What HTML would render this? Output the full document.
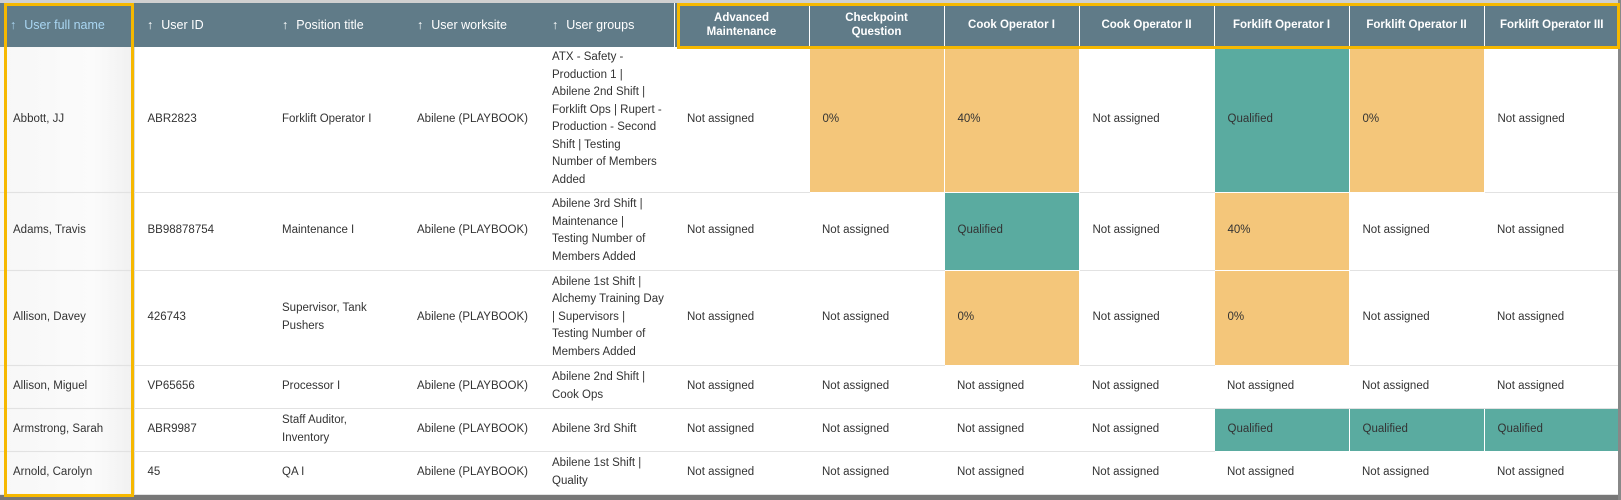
<!DOCTYPE html>
<html><head><meta charset="utf-8"><style>
html,body{margin:0;padding:0;background:#fff;}
body{width:1621px;height:500px;position:relative;overflow:hidden;font-family:"Liberation Sans",sans-serif;}
table{position:absolute;left:0;top:3px;border-collapse:collapse;table-layout:fixed;width:1619px;}
td,th{padding:0 0 0 13px;font-size:11.5px;color:#333;vertical-align:middle;text-align:left;overflow:hidden;line-height:17.5px;font-weight:normal;border:none;border-bottom:1px solid #e2e2e2;white-space:nowrap;}
th{background:#607b88;color:#fff;height:44px;font-size:12.5px;line-height:14px;border-bottom:none;}
th.q{text-align:center;padding:0 4px;border-left:1px solid #fff;font-weight:bold;font-size:11.5px;}
th .ar{margin-right:8px;}
th.n{color:#a9d6f2;padding-left:10px;}
td.n{background:linear-gradient(90deg,#f7f7f7,#fbfbfb 70%,#f0f0f0);box-shadow:inset -3px 0 3px -2px rgba(0,0,0,.12);border-right:1px solid #ddd;}
.o{background:#f4c67a;border-left:1px solid #fff;border-right:1px solid #fff;border-bottom-color:#fff;}
.t{background:#5aaba0;border-left:1px solid #fff;border-right:1px solid #fff;border-bottom-color:#fff;}
.box{position:absolute;border:3px solid #f6b800;box-sizing:border-box;}
</style></head><body>
<div style="position:absolute;left:0;top:0;width:1621px;height:3px;background:#d0d0d0"></div>
<table>
<colgroup><col style="width:134px"><col span="11" style="width:135px"></colgroup>
<tr>
<th class="n"><span class="ar">↑</span>User full name</th>
<th><span class="ar">↑</span>User ID</th>
<th><span class="ar">↑</span>Position title</th>
<th><span class="ar">↑</span>User worksite</th>
<th><span class="ar">↑</span>User groups</th>
<th class="q">Advanced<br>Maintenance</th>
<th class="q">Checkpoint<br>Question</th>
<th class="q">Cook Operator I</th>
<th class="q">Cook Operator II</th>
<th class="q">Forklift Operator I</th>
<th class="q">Forklift Operator II</th>
<th class="q">Forklift Operator III</th>
</tr>
<tr style="height:145px">
<td class="n">Abbott, JJ</td><td>ABR2823</td><td>Forklift Operator I</td><td>Abilene (PLAYBOOK)</td>
<td>ATX - Safety -<br>Production 1 |<br>Abilene 2nd Shift |<br>Forklift Ops | Rupert -<br>Production - Second<br>Shift | Testing<br>Number of Members<br>Added</td>
<td>Not assigned</td><td class="o">0%</td><td class="o">40%</td><td>Not assigned</td><td class="t">Qualified</td><td class="o">0%</td><td>Not assigned</td>
</tr>
<tr style="height:78px">
<td class="n">Adams, Travis</td><td>BB98878754</td><td>Maintenance I</td><td>Abilene (PLAYBOOK)</td>
<td>Abilene 3rd Shift |<br>Maintenance |<br>Testing Number of<br>Members Added</td>
<td>Not assigned</td><td>Not assigned</td><td class="t">Qualified</td><td>Not assigned</td><td class="o">40%</td><td>Not assigned</td><td>Not assigned</td>
</tr>
<tr style="height:95px">
<td class="n">Allison, Davey</td><td>426743</td><td>Supervisor, Tank<br>Pushers</td><td>Abilene (PLAYBOOK)</td>
<td>Abilene 1st Shift |<br>Alchemy Training Day<br>| Supervisors |<br>Testing Number of<br>Members Added</td>
<td>Not assigned</td><td>Not assigned</td><td class="o">0%</td><td>Not assigned</td><td class="o">0%</td><td>Not assigned</td><td>Not assigned</td>
</tr>
<tr style="height:43px">
<td class="n">Allison, Miguel</td><td>VP65656</td><td>Processor I</td><td>Abilene (PLAYBOOK)</td>
<td>Abilene 2nd Shift |<br>Cook Ops</td>
<td>Not assigned</td><td>Not assigned</td><td>Not assigned</td><td>Not assigned</td><td>Not assigned</td><td>Not assigned</td><td>Not assigned</td>
</tr>
<tr style="height:43px">
<td class="n">Armstrong, Sarah</td><td>ABR9987</td><td>Staff Auditor,<br>Inventory</td><td>Abilene (PLAYBOOK)</td>
<td>Abilene 3rd Shift</td>
<td>Not assigned</td><td>Not assigned</td><td>Not assigned</td><td>Not assigned</td><td class="t">Qualified</td><td class="t">Qualified</td><td class="t">Qualified</td>
</tr>
<tr style="height:43px">
<td class="n">Arnold, Carolyn</td><td>45</td><td>QA I</td><td>Abilene (PLAYBOOK)</td>
<td>Abilene 1st Shift |<br>Quality</td>
<td>Not assigned</td><td>Not assigned</td><td>Not assigned</td><td>Not assigned</td><td>Not assigned</td><td>Not assigned</td><td>Not assigned</td>
</tr>
</table>
<div style="position:absolute;left:0;top:495px;width:1621px;height:5px;background:#777"></div>
<div style="position:absolute;left:1618px;top:0;width:3px;height:500px;background:#888"></div>
<div class="box" style="left:4px;top:3px;width:130px;height:494px;"></div>
<div class="box" style="left:677px;top:3px;width:943px;height:46px;"></div>
</body></html>
